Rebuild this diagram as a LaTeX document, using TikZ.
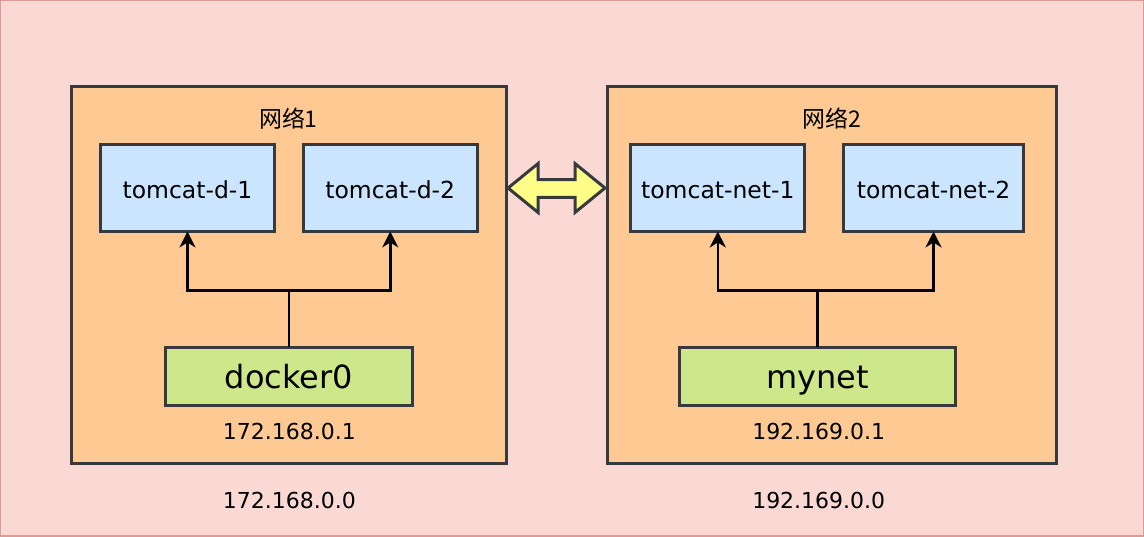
\documentclass[tikz,border=0pt]{standalone}
\usepackage{fontspec}
\setmainfont{DejaVu Sans}
\newfontfamily\cjk{Noto Sans CJK SC}
\usetikzlibrary{arrows.meta}
\definecolor{bgfill}{HTML}{FAD9D5}
\definecolor{bgline}{HTML}{DE9A94}
\definecolor{netfill}{HTML}{FFC994}
\definecolor{edge}{HTML}{36393D}
\definecolor{hostfill}{HTML}{CCE5FF}
\definecolor{brfill}{HTML}{CDE88B}
\definecolor{dblfill}{HTML}{FFFF88}
\tikzset{
  netbox/.style={draw=edge, fill=netfill, line width=3pt, inner sep=0pt, outer sep=0pt},
  hostbox/.style={draw=edge, fill=hostfill, line width=3pt, inner sep=0pt, outer sep=0pt, minimum height=87pt,
    font=\fontsize{23.5}{26}\selectfont, text height=21pt, text depth=0pt},
  brbox/.style={draw=edge, fill=brfill, line width=3pt, inner sep=0pt, outer sep=0pt, minimum height=58pt,
    font=\fontsize{32}{36}\selectfont, text height=24pt, text depth=0pt},
  lbl/.style={font=\fontsize{22}{26}\selectfont, inner sep=0pt},
  cnlbl/.style={font=\cjk\fontsize{23}{26}\selectfont, inner sep=0pt},
  link/.style={draw=black, line width=2.6pt},
  arr/.style={link, -{Stealth[length=16pt, width=16pt, inset=5pt]}}
}
\begin{document}
\begin{tikzpicture}[x=1pt, y=-1pt]
\path[use as bounding box, fill=bgfill, draw=bgline, line width=1.5pt] (0,0) rectangle (1144,536);
% network boxes
\node[netbox, minimum width=435pt, minimum height=377pt] (net1) at (288.5,274.5) {};
\node[netbox, minimum width=449pt, minimum height=377pt] (net2) at (832.5,274.5) {};
\node[cnlbl] (t1) at (288,118) {网络1};
\node[cnlbl] (t2) at (832,118) {网络2};
% hosts
\node[hostbox, minimum width=174pt] (d1) at (187,187.5) {tomcat-d-1};
\node[hostbox, minimum width=174pt] (d2) at (390,187.5) {tomcat-d-2};
\node[hostbox, minimum width=174pt] (n1) at (718,187.5) {tomcat-net-1};
\node[hostbox, minimum width=180pt] (n2) at (934,187.5) {tomcat-net-2};
% bridges
\node[brbox, minimum width=247pt] (dk) at (288.5,376) {docker0};
\node[brbox, minimum width=276pt] (mn) at (818,376) {mynet};
% ip labels
\node[lbl] (ip1) at (289,431) {172.168.0.1};
\node[lbl] (ip2) at (819,431) {192.169.0.1};
\node[lbl] (sn1) at (289,500) {172.168.0.0};
\node[lbl] (sn2) at (819,500) {192.169.0.0};
% connectors
\coordinate (j1) at (dk.north |- 0,290);
\coordinate (j2) at (mn.north |- 0,290);
\draw[link] (dk.north) -- (j1);
\draw[arr] (j1) -| (d1.south);
\draw[arr] (j1) -| (d2.south);
\draw[link] (mn.north) -- (j2);
\draw[arr] (j2) -| (n1.south);
\draw[arr] (j2) -| (n2.south);
% double arrow
\draw[draw=edge, fill=dblfill, line width=3pt, line join=miter]
  (508,187.5) -- (538,163) -- (538,179) -- (575,179) -- (575,163) -- (605,187.5)
  -- (575,212) -- (575,197) -- (538,197) -- (538,212) -- cycle;
\end{tikzpicture}
\end{document}
